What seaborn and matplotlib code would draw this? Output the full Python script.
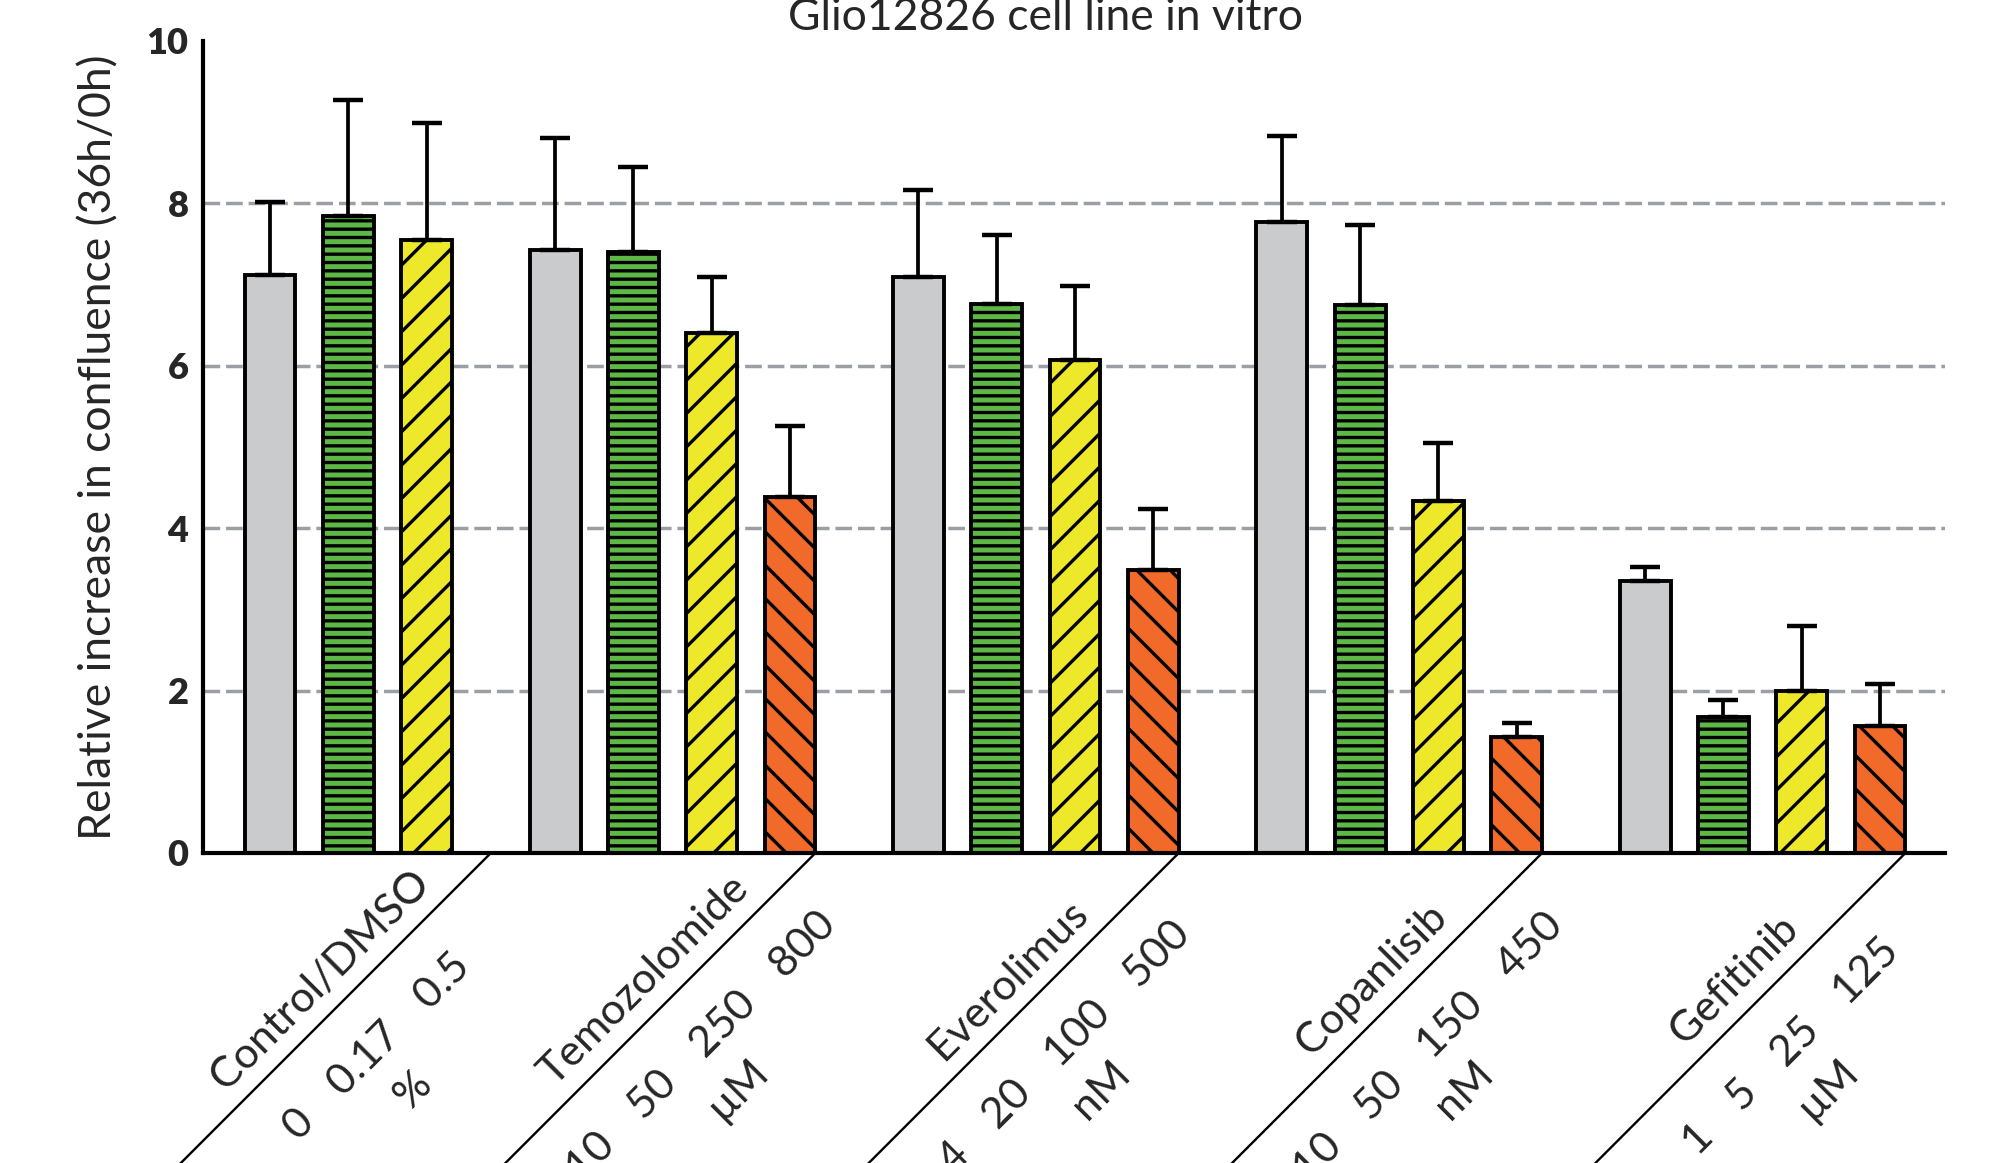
import numpy as np
import pandas as pd
import matplotlib
matplotlib.use("Agg")
import matplotlib.pyplot as plt
import seaborn as sns

# ---------------- data ----------------
title = "Glio12826 cell line in vitro"
ylabel = "Relative increase in confluence (36h/0h)"
drugs = ["Control/DMSO", "Temozolomide", "Everolimus", "Copanlisib", "Gefitinib"]
doses = [["0", "0.17", "0.5"],
         ["10", "50", "250", "800"],
         ["4", "20", "100", "500"],
         ["10", "50", "150", "450"],
         ["1", "5", "25", "125"]]
units = ["%", "\u00b5M", "nM", "nM", "\u00b5M"]
means = [[7.12, 7.84, 7.55],
         [7.43, 7.40, 6.40, 4.39],
         [7.09, 6.76, 6.07, 3.49],
         [7.77, 6.75, 4.33, 1.43],
         [3.35, 1.67, 1.99, 1.56]]
sds = [[0.90, 1.43, 1.44],
       [1.38, 1.05, 0.69, 0.87],
       [1.08, 0.85, 0.91, 0.75],
       [1.06, 0.98, 0.72, 0.17],
       [0.17, 0.21, 0.81, 0.52]]
yticks = [0, 2, 4, 6, 8, 10]

# ---------------- style ----------------
sns.set_style("white")
plt.rcParams['font.family'] = ['Lato', 'DejaVu Sans']
plt.rcParams['hatch.linewidth'] = 2.4
plt.rcParams['hatch.color'] = 'black'

level_colors = {"d0": "#cacbcd", "d1": "#5db845", "d2": "#ede82a", "d3": "#f26a2a"}
level_hatch = {"d0": "", "d1": "--", "d2": "/", "d3": "\\"}

bar_width = 0.65
group_gap = 0.64

# layout: bar positions
positions = []
start = 0.0
for m in means:
    positions.append([start + i for i in range(len(m))])
    start += len(m) + group_gap

rows = []
for g, (pos, m, s) in enumerate(zip(positions, means, sds)):
    for i, (p, v, e) in enumerate(zip(pos, m, s)):
        rows.append(dict(x=p, y=v, sd=e, dose=f"d{i}", group=drugs[g]))
df = pd.DataFrame(rows)

W, H, DPI = 2006, 1163, 100
fig = plt.figure(figsize=(W / DPI, H / DPI), dpi=DPI)
ax_left, ax_right = 203 / W, 1945 / W
ax_bottom, ax_top = 1 - 853 / H, 1 - 41 / H
ax = fig.add_axes([ax_left, ax_bottom, ax_right - ax_left, ax_top - ax_bottom])

for v in yticks[1:-1]:
    ax.axhline(v, color="#9c9ea6", lw=2.5, ls=(0, (4.8, 1.7)), zorder=0)

sns.barplot(data=df, x="x", y="y", hue="dose", native_scale=True, dodge=False,
            width=bar_width, palette=level_colors, saturation=1, edgecolor="black",
            linewidth=2.8, errorbar=None, legend=False, ax=ax, zorder=2)

hue_order = sorted(df["dose"].unique())
for lvl, cont in zip(hue_order, ax.containers):
    for patch in cont.patches:
        patch.set_hatch(level_hatch[lvl])

ax.errorbar(df["x"], df["y"], yerr=[np.zeros(len(df)), df["sd"]], fmt="none",
            ecolor="black", elinewidth=2.7, capsize=10.5, capthick=3.2, zorder=3)

ax.set_ylim(0, 10)
ax.set_xlim(-0.856, 21.39)
ax.set_yticks(yticks)
ax.set_yticklabels([str(t) for t in yticks], fontsize=26, fontweight="heavy")
ax.set_xticks([])
ax.set_xlabel("")
ax.set_ylabel(ylabel, fontsize=32)
ax.yaxis.set_label_coords((99 - 203) / (1945 - 203), 0.5)
ax.yaxis.label.set_va("center")
ax.tick_params(axis="y", direction="out", length=8.5, width=2.6, pad=2, color="black")
for sp in ["top", "right"]:
    ax.spines[sp].set_visible(False)
for sp in ["left", "bottom"]:
    ax.spines[sp].set_linewidth(3.0)
    ax.spines[sp].set_color("black")

# diagonal category labels
px2pt = 72 / DPI
label_fs = 31
sep = "\u2003\u2009"
for g, pos in enumerate(positions):
    if len(pos) == 4:
        x_end = pos[-1] + bar_width / 2
    else:
        x_end = pos[-1] + (1 + group_gap) / 2
    ax.annotate("", xy=(x_end, 0), xycoords="data",
                xytext=(-315 * px2pt, -315 * px2pt), textcoords="offset points",
                arrowprops=dict(arrowstyle="-", lw=1.7, color="black", shrinkA=0, shrinkB=0),
                annotation_clip=False)
    ax.annotate(drugs[g], xy=(x_end, 0), xycoords="data",
                xytext=(-171 * px2pt, -127 * px2pt), textcoords="offset points",
                rotation=45, rotation_mode="anchor", ha="center", va="center",
                fontsize=label_fs, annotation_clip=False)
    ax.annotate(sep.join(doses[g]), xy=(x_end, 0), xycoords="data",
                xytext=(-114 * px2pt, -194 * px2pt), textcoords="offset points",
                rotation=45, rotation_mode="anchor", ha="center", va="center",
                fontsize=label_fs, annotation_clip=False)
    ax.annotate(units[g], xy=(x_end, 0), xycoords="data",
                xytext=(-78 * px2pt, -237 * px2pt), textcoords="offset points",
                rotation=45, rotation_mode="anchor", ha="center", va="center",
                fontsize=label_fs, annotation_clip=False)

fig.text(1046 / W, 1 - 30 / H, title, ha="center", va="baseline", fontsize=32)

fig.savefig("out.png", dpi=DPI)
